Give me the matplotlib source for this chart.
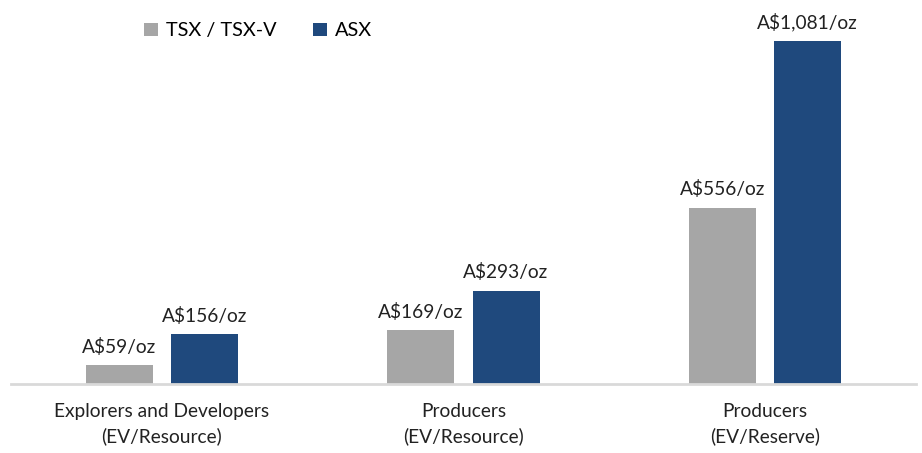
import matplotlib.pyplot as plt
import numpy as np

plt.rcParams['font.family'] = ['Lato', 'DejaVu Sans']

# chart data
categories = ['Explorers and Developers\n(EV/Resource)', 'Producers\n(EV/Resource)', 'Producers\n(EV/Reserve)']
tsx_values = [59, 169, 556]
asx_values = [156, 293, 1081]
series_names = ['TSX / TSX-V', 'ASX']

gray = '#a6a6a6'
blue = '#1f497d'

fig = plt.figure(figsize=(9.22, 4.53), dpi=100)
ax = fig.add_axes([0.0119, 0.1523, 0.9816, 0.826])

x = np.arange(len(categories))
w = 0.222
off = 0.141
b1 = ax.bar(x - off, tsx_values, w, color=gray, label=series_names[0])
b2 = ax.bar(x + off, asx_values, w, color=blue, label=series_names[1])

for bars, vals in ((b1, tsx_values), (b2, asx_values)):
  for r, v in zip(bars, vals):
    ax.annotate('A${:,}/oz'.format(v), (r.get_x() + r.get_width() / 2, v),
                xytext=(0, 7), textcoords='offset points', ha='center', va='bottom',
                fontsize=13.8, color='#222222')

ax.set_xlim(-0.5, 2.5)
ax.set_ylim(0, 1179)
ax.set_yticks([])
ax.set_xticks(x)
ax.set_xticklabels(categories, fontsize=13.8, color='#222222', linespacing=1.45)
ax.tick_params(axis='x', length=0, pad=14)
for s in ['top', 'right', 'left']:
  ax.spines[s].set_visible(False)
ax.spines['bottom'].set_color('#d9d9d9')
ax.spines['bottom'].set_linewidth(2)

fig.legend(handles=[b1, b2], loc='upper left', bbox_to_anchor=(0.137, 0.99), ncol=2,
           frameon=False, fontsize=14.3, handlelength=0.7, handleheight=0.7,
           handletextpad=0.4, columnspacing=1.85)

plt.savefig('out.png', dpi=100)
